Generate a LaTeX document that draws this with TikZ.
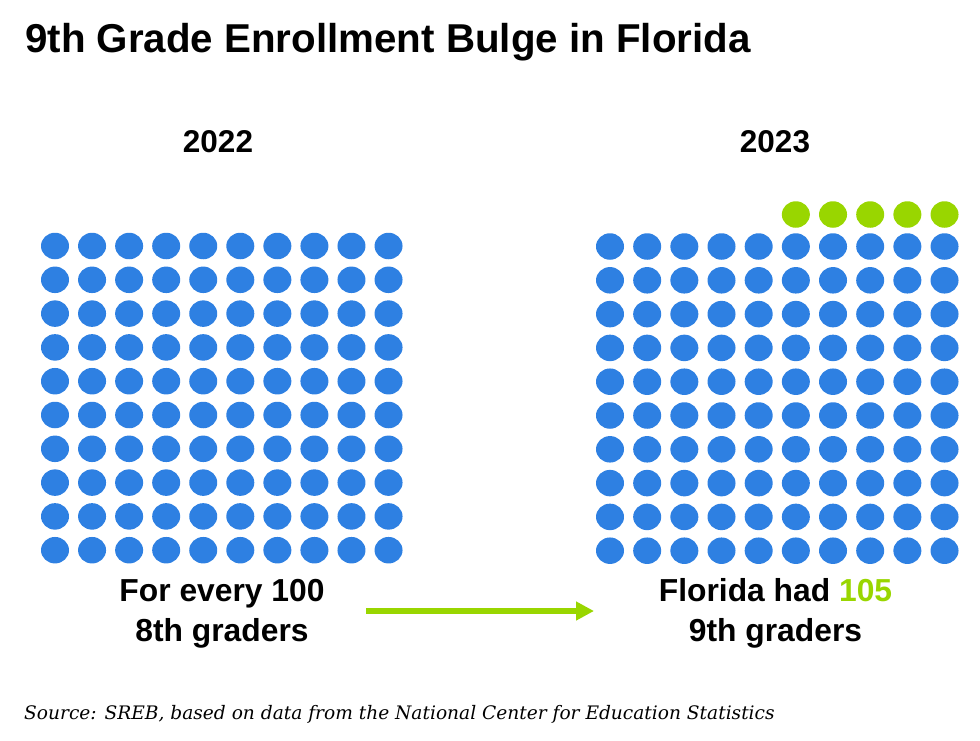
\documentclass[tikz,border=0pt]{standalone}
\usepackage{fontspec}
\setmainfont{Liberation Sans}
\newfontfamily\sourcefont{DejaVu Serif}
\usetikzlibrary{arrows.meta,shapes.geometric}
\definecolor{dotblue}{RGB}{46,128,226}
\definecolor{dotgreen}{RGB}{153,214,0}
\tikzset{
  dot/.style={ellipse, fill=#1, minimum width=28pt, minimum height=26.5pt, inner sep=0pt},
  year/.style={anchor=base, inner sep=0pt, font=\bfseries\fontsize{31.5}{36}\selectfont},
  caption/.style={anchor=base, inner sep=0pt, align=center, font=\bfseries\fontsize{31.8}{40}\selectfont},
  growarrow/.style={draw=dotgreen, line width=6pt, -{Triangle[length=18pt,width=18pt]}}
}

\begin{document}
\begin{tikzpicture}[x=1pt, y=-1pt]
        \useasboundingbox (0,0) rectangle (980,740);

        \node[anchor=base west, inner sep=0pt, font=\bfseries\fontsize{40.3}{48}\selectfont] (title) at (25,52.7) {9th Grade Enrollment Bulge in Florida};

        \node[year] (Y1) at (218,152) {2022};
        \node[year] (Y2) at (775,152) {2023};

        \foreach \i in {0,...,9}
            \foreach \j in {0,...,9} {
                \node[dot=dotblue] (L\i\j) at (55+37.06*\i, 246+33.8*\j) {};
                \node[dot=dotblue] (R\i\j) at (610+37.17*\i, 246.5+33.8*\j) {};
            }
        \foreach \i in {5,...,9}
            \node[dot=dotgreen] (G\i) at (610+37.17*\i, 214.5) {};

        % base anchor sits on the second line
        \node[caption] (C1) at (222,641) {For every 100\\8th graders};
        \node[caption] (C2) at (775.5,641) {Florida had \textcolor{dotgreen}{105}\\9th graders};

        \coordinate (S) at (366,611);
        \coordinate (E) at (594,611);
        \draw[growarrow] (S) -- (E);

        \node[anchor=base west, inner sep=0pt, font=\sourcefont\itshape\fontsize{18.6}{22}\selectfont] (src) at (24,719.3) {Source: SREB, based on data from the National Center for Education Statistics};
\end{tikzpicture}
\end{document}
